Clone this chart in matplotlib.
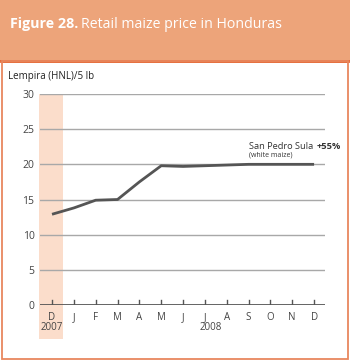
import matplotlib.pyplot as plt
from matplotlib.patches import Rectangle

# datos
meses = ['D', 'J', 'F', 'M', 'A', 'M', 'J', 'J', 'A', 'S', 'O', 'N', 'D']
precio = [12.9, 13.8, 14.9, 15.0, 17.5, 19.8, 19.7, 19.8, 19.9, 20.0, 20.0, 20.0, 20.0]
yticks = [0, 5, 10, 15, 20, 25, 30]

plt.rcParams['font.family'] = ['Open Sans', 'DejaVu Sans']

fig = plt.figure(figsize=(3.5, 3.6), dpi=100)
W, H = 350, 360

def fx(px):
    return px / W

def fy(py):
    return 1 - py / H

# cabecera
fig.patches.append(Rectangle((0, fy(61)), 1, 61 / H, transform=fig.transFigure,
                             facecolor='#EDA47A', edgecolor='none', zorder=-2))
t1 = fig.text(fx(10), fy(24), 'Figure 28.', fontsize=10.3, fontweight='bold', color='white',
              va='center', ha='left')
fig.text(fx(81), fy(24), 'Retail maize price in Honduras', fontsize=10.2, color='white',
         va='center', ha='left')

# marco
fig.patches.append(Rectangle((fx(1.5), fy(359)), fx(346.5), (359 - 61) / H,
                             transform=fig.transFigure, facecolor='none',
                             edgecolor='#E8875E', linewidth=1.3, zorder=-1))
fig.lines.append(plt.Line2D([fx(1), fx(348)], [fy(61), fy(61)], transform=fig.transFigure,
                            color='#E4602A', linewidth=2, zorder=-1))

# franja 2007
fig.patches.append(Rectangle((fx(39), fy(339)), fx(24), (339 - 94) / H,
                             transform=fig.transFigure, facecolor='#FBDDCB',
                             edgecolor='none', zorder=-2))

ax = fig.add_axes([fx(40), fy(305), fx(285), (305 - 94) / H])
ax.set_zorder(1)
ax.patch.set_alpha(0)
x = list(range(len(meses)))
ax.plot(x, precio, color='#555555', linewidth=2, solid_capstyle='butt', zorder=3)

ax.set_xlim(-0.55, 12.5)
ax.set_ylim(0, 30)
for v in yticks[1:]:
    ax.axhline(v, color='#A8A8A8', linewidth=1, zorder=1)
ax.axhline(0, color='#555555', linewidth=2, zorder=2)
for i in x:
    ax.plot([i, i], [0, 0.75], color='#555555', linewidth=1, zorder=2)

for s in ax.spines.values():
    s.set_visible(False)
ax.set_yticks(yticks)
ax.set_yticklabels([str(v) for v in yticks], fontsize=7.5, color='#444444')
ax.tick_params(axis='y', length=0, pad=4)
ax.set_xticks(x)
ax.set_xticklabels(meses, fontsize=7, color='#444444')
ax.tick_params(axis='x', length=0, pad=5)

fig.text(fx(52), fy(328), '2007', fontsize=7, color='#444444', ha='center', va='center')
fig.text(fx(211), fy(328), '2008', fontsize=7, color='#444444', ha='center', va='center')
fig.text(fx(8), fy(76), 'Lempira (HNL)/5 lb', fontsize=7, color='#222222', ha='left', va='center')

a1 = ax.text(9.0, 22.6, 'San Pedro Sula', fontsize=6.7, color='#333333', ha='left', va='center')
ax.annotate('+55%', xy=(1, 0.5), xycoords=a1, xytext=(2.5, 0), textcoords='offset points',
            fontsize=6.7, fontweight='bold', color='#333333', ha='left', va='center')
ax.text(9.0, 21.3, '(white maize)', fontsize=5, color='#333333', ha='left', va='center')

fig.savefig('out.png', dpi=100)
